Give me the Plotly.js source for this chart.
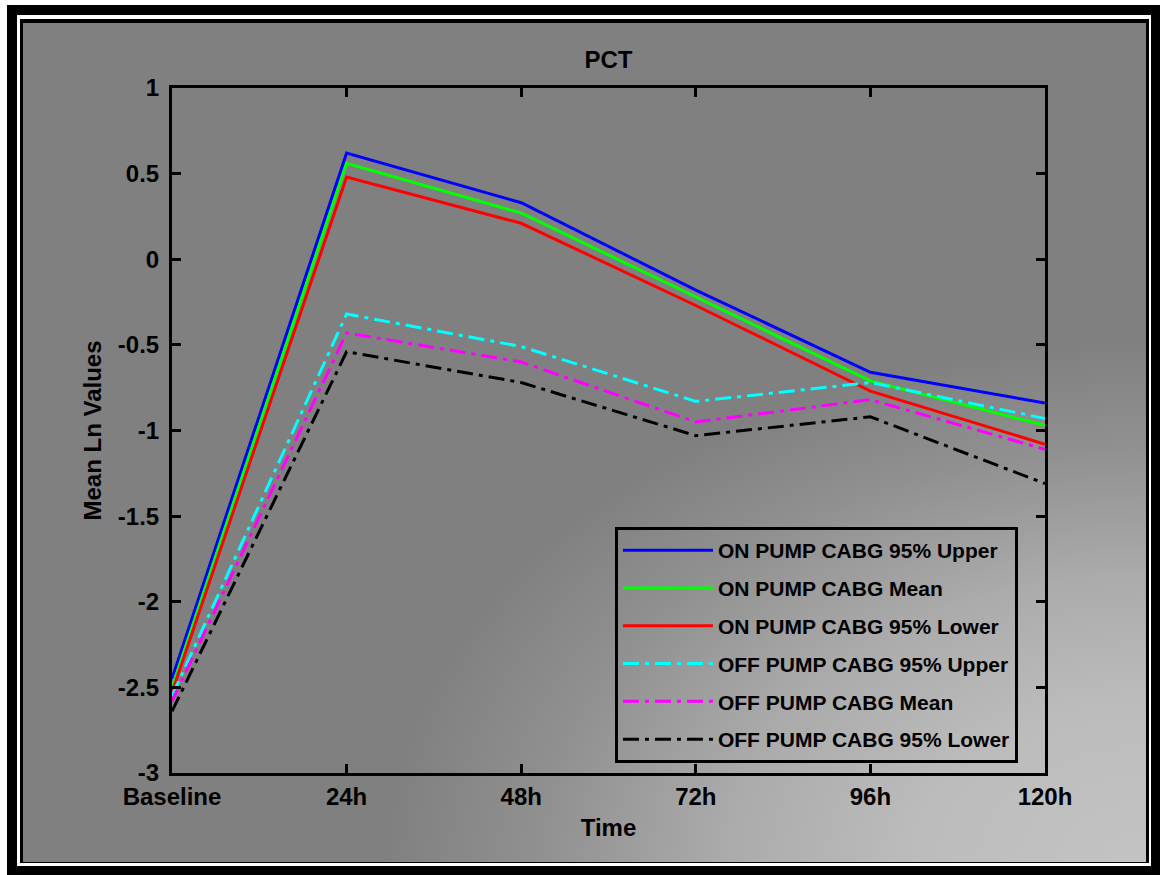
<!DOCTYPE html>
<html>
<head>
<meta charset="utf-8">
<script src="https://cdn.plot.ly/plotly-3.0.1.min.js"></script>
<style>
  html, body { margin: 0; padding: 0; background: #ffffff; }
  #frame1 { position: absolute; left: 7px; top: 5px; width: 1153px; height: 870px; background: #000; }
  #frame2 { position: absolute; left: 17px; top: 15px; width: 1134px; height: 851px; background: #fff; }
  #frame3 { position: absolute; left: 20px; top: 19px; width: 1129px; height: 844px; background: #000; }
  #bg { position: absolute; left: 23px; top: 23px; width: 1123px; height: 839px;
        background: radial-gradient(ellipse 760px 520px at 100% 100%, #c3c3c3 0%, #bcbcbc 30%, #ababab 55%, #909090 80%, #808080 100%); }
  #chart { position: absolute; left: 0; top: 0; width: 1160px; height: 875px; }
</style>
</head>
<body>
<div id="frame1"></div>
<div id="frame2"></div>
<div id="frame3"></div>
<div id="bg"></div>
<div id="chart"></div>
<script>
// ---- data ----
const categories = ['Baseline', '24h', '48h', '72h', '96h', '120h'];

const onPumpUpper  = [-2.45, 0.62, 0.33, -0.18, -0.66, -0.84];
const onPumpMean   = [-2.50, 0.56, 0.27, -0.22, -0.71, -0.97];
const onPumpLower  = [-2.53, 0.48, 0.21, -0.27, -0.77, -1.08];
const offPumpUpper = [-2.55, -0.32, -0.51, -0.83, -0.72, -0.93];
const offPumpMean  = [-2.58, -0.43, -0.60, -0.95, -0.82, -1.11];
const offPumpLower = [-2.64, -0.54, -0.72, -1.03, -0.92, -1.31];

const seriesNames = [
  'ON PUMP CABG 95% Upper',
  'ON PUMP CABG Mean',
  'ON PUMP CABG 95% Lower',
  'OFF PUMP CABG 95% Upper',
  'OFF PUMP CABG Mean',
  'OFF PUMP CABG 95% Lower'
];

const yTickVals  = [1, 0.5, 0, -0.5, -1, -1.5, -2, -2.5, -3];
const yTickTexts = ['1', '0.5', '0', '-0.5', '-1', '-1.5', '-2', '-2.5', '-3'];

// ---- styling ----
const seriesValues = [onPumpUpper, onPumpMean, onPumpLower, offPumpUpper, offPumpMean, offPumpLower];
const colors = ['#0000ff', '#00ff00', '#ff0000', '#00ffff', '#ff00ff', '#000000'];
const dashes = ['solid', 'solid', 'solid', '16px,6px,4px,6px', '16px,6px,4px,6px', '16px,6px,4px,6px'];

const traces = seriesValues.map((vals, i) => ({
  x: categories,
  y: vals,
  type: 'scatter',
  mode: 'lines',
  name: seriesNames[i],
  legendgroup: 'g' + i,
  line: { color: colors[i], width: 3, dash: dashes[i] }
}));

const fontBase = { family: '"Liberation Sans", Arial, sans-serif', color: '#000', weight: 'bold' };

const layout = {
  width: 1160,
  height: 875,
  margin: { l: 172, r: 115, t: 88, b: 102, pad: 0 },
  paper_bgcolor: 'rgba(0,0,0,0)',
  plot_bgcolor: 'rgba(0,0,0,0)',
  showlegend: true,
  title: {
    text: 'PCT',
    font: Object.assign({}, fontBase, { size: 24 }),
    x: 0.5, xanchor: 'center', y: 1 - 60 / 875, yanchor: 'middle', xref: 'paper'
  },
  xaxis: {
    type: 'category',
    range: [0, 5],
    showgrid: false, zeroline: false,
    showline: true, linecolor: '#000', linewidth: 3,
    mirror: 'ticks',
    ticks: 'inside', ticklen: 9, tickwidth: 3, tickcolor: '#000',
    tickfont: Object.assign({}, fontBase, { size: 24 }),
    title: { text: 'Time', font: Object.assign({}, fontBase, { size: 24 }), standoff: 11 }
  },
  yaxis: {
    range: [-3, 1],
    showgrid: false, zeroline: false,
    showline: true, linecolor: '#000', linewidth: 3,
    mirror: 'ticks',
    ticks: 'inside', ticklen: 9, tickwidth: 3, tickcolor: '#000',
    tickmode: 'array', tickvals: yTickVals, ticktext: yTickTexts,
    ticklabelstandoff: 5,
    tickfont: Object.assign({}, fontBase, { size: 24 }),
    title: { text: 'Mean Ln Values', font: Object.assign({}, fontBase, { size: 24 }), standoff: 10 }
  },
  legend: {
    x: 0.5074, xanchor: 'left',
    y: 0.0146, yanchor: 'bottom',
    bgcolor: 'rgba(0,0,0,0)',
    bordercolor: '#000', borderwidth: 3,
    font: Object.assign({}, fontBase, { size: 21 }),
    itemwidth: 90,
    tracegroupgap: 7.5,
    traceorder: 'grouped'
  }
};

Plotly.newPlot('chart', traces, layout, { displayModeBar: false, staticPlot: true });
</script>
</body>
</html>
